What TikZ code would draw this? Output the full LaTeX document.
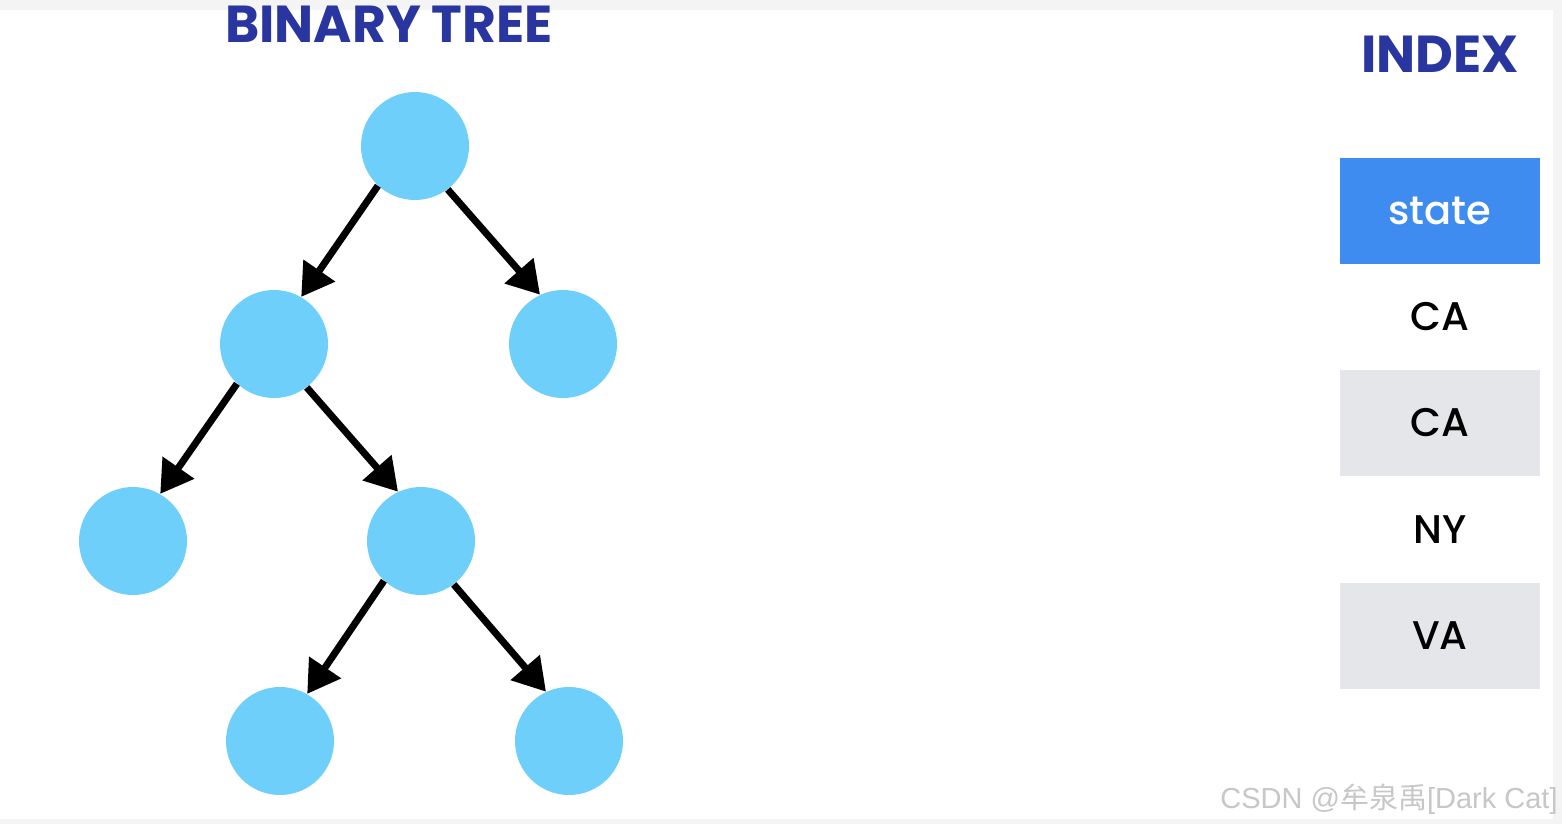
\documentclass[tikz,border=0pt]{standalone}
\usepackage{fontspec}
\setmainfont{Poppins}
\newfontfamily\popmed{Poppins}[UprightFont=* Medium]
\newfontfamily\cjk{Noto Sans CJK SC}
\newfontfamily\wmlatin{Liberation Sans}
\usetikzlibrary{arrows.meta}
\definecolor{nodeblue}{HTML}{6DCFFA}
\definecolor{titleblue}{HTML}{2A36A0}
\definecolor{hdrblue}{HTML}{3F8CF0}
\definecolor{rowgray}{HTML}{E5E6EA}
\definecolor{framegray}{HTML}{F4F4F4}
\tikzset{
  tnode/.style={circle, fill=nodeblue, minimum size=54pt, inner sep=0pt},
  edge/.style={line width=3.5pt, -{Triangle[length=16pt,width=18.5pt]}},
  title/.style={text=titleblue, font=\fontsize{26}{30}\selectfont\bfseries},
  cell/.style={minimum width=100pt, minimum height=53pt, inner sep=0pt, font=\popmed\fontsize{20}{24}\selectfont},
}
\begin{document}
\begin{tikzpicture}[x=0.5pt,y=-0.5pt]
\useasboundingbox (0,0) rectangle (1562,824);
\fill[framegray] (0,0) rectangle (1562,824);
\fill[white] (0,10) rectangle (1553,819);
% titles
\node[title, anchor=base] (t1) at (389,43) {BINARY TREE};
\node[title, anchor=base] (t2) at (1440,73) {INDEX};
% tree
\node[tnode] (r) at (415,146) {};
\node[tnode] (a) at (274,344) {};
\node[tnode] (b) at (563,344) {};
\node[tnode] (c) at (133,541) {};
\node[tnode] (d) at (421,541) {};
\node[tnode] (e) at (280,741) {};
\node[tnode] (f) at (569,741) {};
\draw[edge] (r.-133) -- (a.60);
\draw[edge] (r.-53) -- (b.115);
\draw[edge] (a.-133) -- (c.60);
\draw[edge] (a.-53) -- (d.115);
\draw[edge] (d.-133) -- (e.60);
\draw[edge] (d.-53) -- (f.115);
% index
\node[cell, fill=hdrblue, text=white] (s0) at (1440,211) {state};
\node[cell] (s1) at (1440,317) {CA};
\node[cell, fill=rowgray] (s2) at (1440,423) {CA};
\node[cell] (s3) at (1440,530) {NY};
\node[cell, fill=rowgray] (s4) at (1440,636) {VA};
% watermark
\node[anchor=base east, text=black!22, font=\wmlatin\fontsize{14.5}{18}\selectfont, inner sep=0pt] (wm) at (1558,808) {CSDN @{\cjk 牟泉禹}[Dark Cat]};
\end{tikzpicture}
\end{document}
